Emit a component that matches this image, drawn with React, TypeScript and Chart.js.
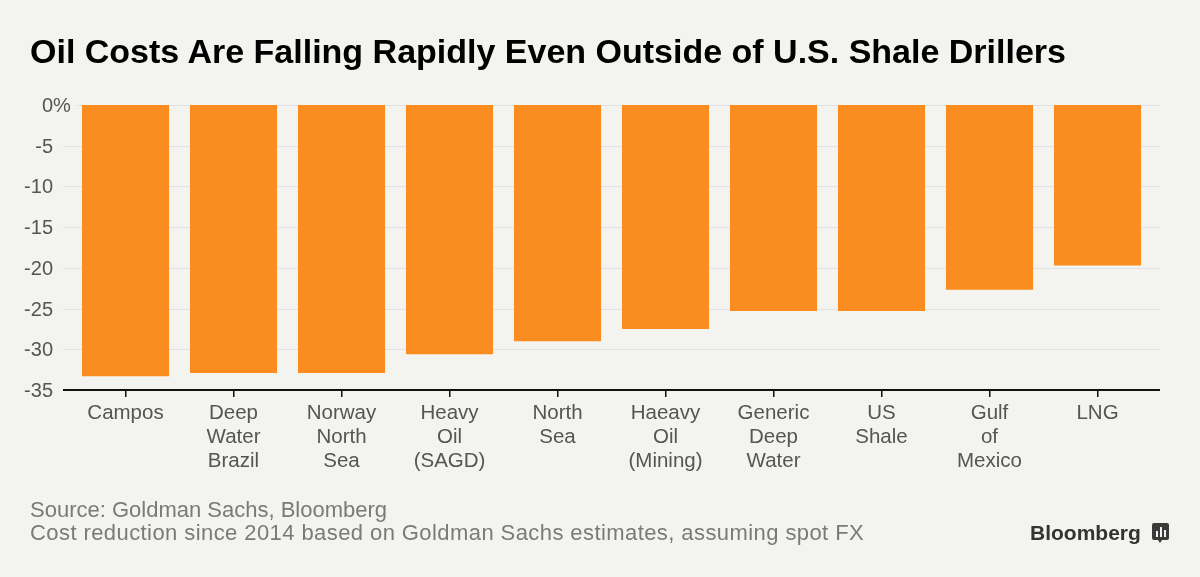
import React, { useEffect, useRef } from "react";
import { Chart, registerables } from "chart.js";

Chart.register(...registerables);

const categories: string[][] = [
  ["Campos"],
  ["Deep", "Water", "Brazil"],
  ["Norway", "North", "Sea"],
  ["Heavy", "Oil", "(SAGD)"],
  ["North", "Sea"],
  ["Haeavy", "Oil", "(Mining)"],
  ["Generic", "Deep", "Water"],
  ["US", "Shale"],
  ["Gulf", "of", "Mexico"],
  ["LNG"],
];
const costChange: number[] = [-33.3, -32.9, -32.9, -30.6, -29.0, -27.5, -25.3, -25.3, -22.7, -19.7];
const yTickValues: number[] = [0, -5, -10, -15, -20, -25, -30, -35];
const yTickLabels: string[] = ["0", "-5", "-10", "-15", "-20", "-25", "-30", "-35"];

const BG = "#f3f3ef";
const BAR = "#fb8c1f";
const FONT = "'Liberation Sans', Arial, Helvetica, sans-serif";

export default function App() {
  const ref = useRef<HTMLCanvasElement | null>(null);

  useEffect(() => {
    document.body.style.margin = "0";
    document.body.style.background = BG;
    const canvas = ref.current;
    if (!canvas) return;

    const decor = {
      id: "decor",
      beforeDatasetsDraw(chart: any) {
        const ctx = chart.ctx;
        const y = chart.scales.y;
        const area = chart.chartArea;
        const gridLeft = area.left - 8.5;
        const gridRight = area.right + 8.5;
        ctx.save();
        ctx.font = `20px ${FONT}`;
        ctx.textBaseline = "middle";
        yTickValues.forEach((v, i) => {
          const py = Math.round(y.getPixelForValue(v)) + 0.5;
          const label = yTickLabels[i];
          const numRight = gridLeft - 10;
          ctx.fillStyle = "#555";
          ctx.textAlign = "right";
          ctx.fillText(label, numRight, py + 1);
          let start = gridLeft;
          if (v === 0) {
            ctx.textAlign = "left";
            ctx.fillText("%", numRight, py + 1);
            start = numRight + ctx.measureText("%").width + 6;
          }
          if (v !== -35) {
            ctx.strokeStyle = "#e2e2e6";
            ctx.lineWidth = 1;
            ctx.beginPath();
            ctx.moveTo(start, py);
            ctx.lineTo(gridRight, py);
            ctx.stroke();
          }
        });
        ctx.restore();
      },
      afterDatasetsDraw(chart: any) {
        const ctx = chart.ctx;
        const y = chart.scales.y;
        const area = chart.chartArea;
        const py = Math.round(y.getPixelForValue(-35));
        ctx.save();
        ctx.strokeStyle = "#111";
        ctx.lineWidth = 2;
        ctx.beginPath();
        ctx.moveTo(area.left - 8.5, py);
        ctx.lineTo(area.right + 8.5, py);
        ctx.stroke();
        ctx.restore();
      },
    };

    const chart = new Chart(canvas, {
      type: "bar",
      data: {
        labels: categories as any,
        datasets: [
          {
            data: costChange,
            backgroundColor: BAR,
            borderWidth: 0,
            barPercentage: 0.806,
            categoryPercentage: 1,
          },
        ],
      },
      options: {
        responsive: false,
        animation: false,
        events: [],
        layout: { padding: { left: 71.5, right: 48.5, top: 105, bottom: 67 } },
        plugins: {
          legend: { display: false },
          tooltip: { enabled: false },
          title: { display: false },
        },
        scales: {
          y: {
            min: -35,
            max: 0,
            ticks: { display: false, stepSize: 5 },
            grid: { display: false },
            border: { display: false },
            afterFit: (s: any) => {
              s.width = 0;
            },
          },
          x: {
            grid: {
              display: true,
              drawOnChartArea: false,
              offset: false,
              tickLength: 7,
              color: "#111",
              lineWidth: 1.5,
            },
            border: { display: false },
            ticks: {
              font: { family: FONT, size: 20.5, lineHeight: 1.17 },
              color: "#555",
              padding: 4,
              maxRotation: 0,
              autoSkip: false,
            },
            afterFit: (s: any) => {
              s.height = 120;
            },
          },
        },
      },
      plugins: [decor],
    } as any);

    return () => chart.destroy();
  }, []);

  return (
    <div style={{ position: "relative", width: 1200, height: 577, background: BG, overflow: "hidden", fontFamily: FONT }}>
      <canvas ref={ref} width={1200} height={577} style={{ position: "absolute", left: 0, top: 0, width: 1200, height: 577 }} />
      <div style={{ position: "absolute", left: 30, top: 34, fontSize: 34, lineHeight: "34px", fontWeight: 700, color: "#000", whiteSpace: "nowrap" }}>
        Oil Costs Are Falling Rapidly Even Outside of U.S. Shale Drillers
      </div>
      <div style={{ position: "absolute", left: 30, top: 498.5, fontSize: 22, lineHeight: "22px", color: "#7a7a7a", whiteSpace: "nowrap" }}>
        Source: Goldman Sachs, Bloomberg
      </div>
      <div style={{ position: "absolute", left: 30, top: 521.5, fontSize: 22, lineHeight: "22px", letterSpacing: "0.42px", color: "#7a7a7a", whiteSpace: "nowrap" }}>
        Cost reduction since 2014 based on Goldman Sachs estimates, assuming spot FX
      </div>
      <div style={{ position: "absolute", left: 1030, top: 522, fontSize: 21, lineHeight: "21px", fontWeight: 700, color: "#333", whiteSpace: "nowrap" }}>
        Bloomberg
      </div>
      <div style={{ position: "absolute", left: 1152, top: 523, width: 17, height: 17, background: "#3a3a3a", borderRadius: 2 }}>
        <div style={{ position: "absolute", left: 4, top: 8, width: 2, height: 6, background: "#f3f3ef" }} />
        <div style={{ position: "absolute", left: 8, top: 4, width: 2, height: 10, background: "#f3f3ef" }} />
        <div style={{ position: "absolute", left: 12, top: 7, width: 2, height: 7, background: "#f3f3ef" }} />
        <div style={{ position: "absolute", left: 6, top: 17, width: 0, height: 0, borderLeft: "2.5px solid transparent", borderRight: "2.5px solid transparent", borderTop: "3px solid #3a3a3a" }} />
      </div>
    </div>
  );
}
